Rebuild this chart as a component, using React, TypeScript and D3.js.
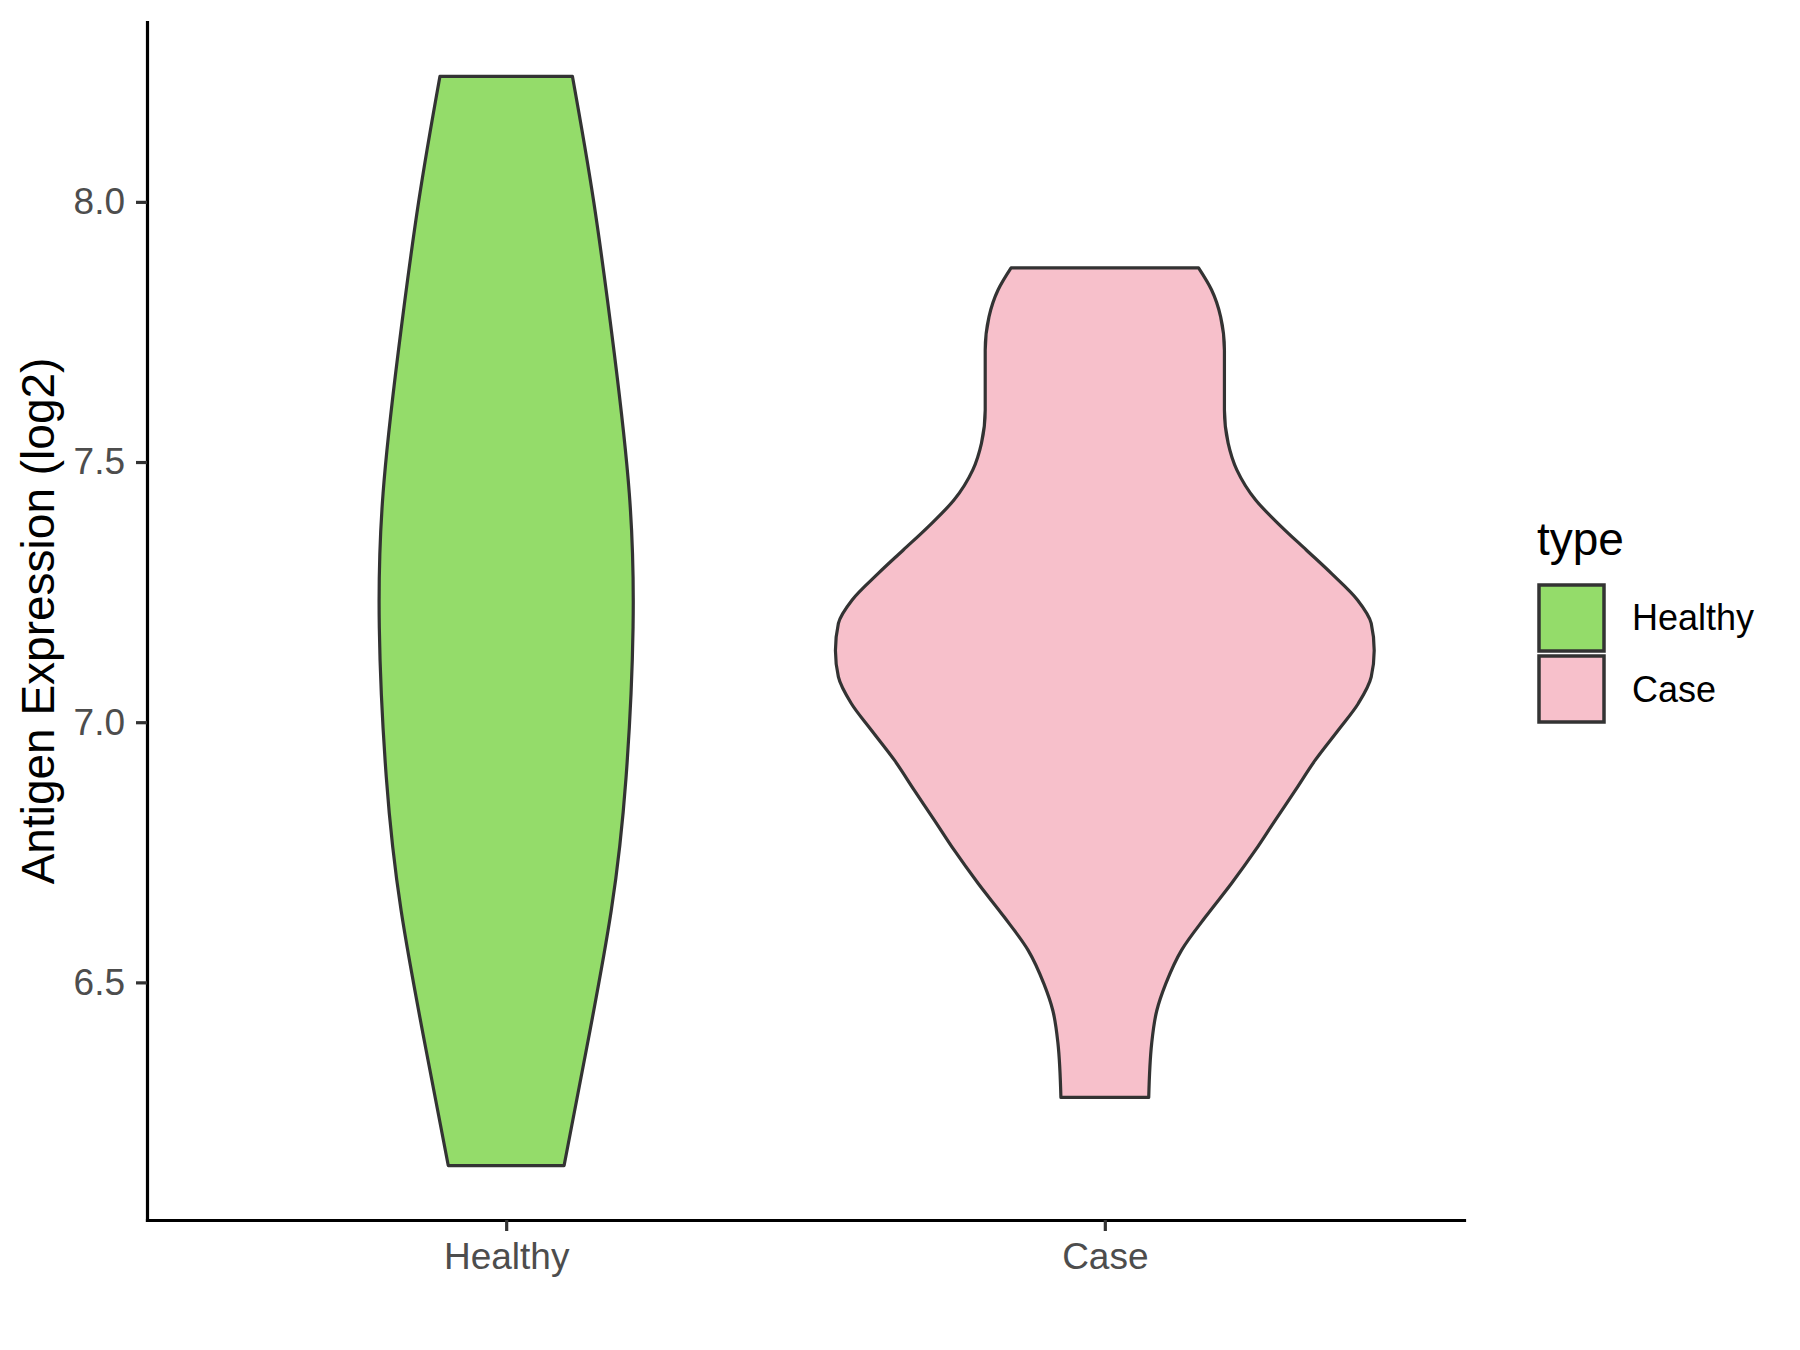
import React, { useEffect, useRef } from 'react';
import * as d3 from 'd3';

// categories and fill colours
const categories = ["Healthy", "Case"];
const fills = ["#94DC6A", "#F7C0CB"];

// violin outlines: expression value and relative density
const healthyValues = [8.241, 8.0, 7.71, 7.44, 7.183, 6.894, 6.638, 6.369, 6.148];
const healthyDensity = [0.246, 0.325, 0.401, 0.457, 0.471, 0.445, 0.39, 0.297, 0.215];

const caseValues = [7.873, 7.831, 7.779, 7.715, 7.651, 7.6, 7.536, 7.485, 7.427, 7.376, 7.331, 7.286, 7.235,
  7.19, 7.138, 7.087, 7.036, 6.985, 6.927, 6.869, 6.812, 6.754, 6.69, 6.626, 6.562, 6.497, 6.446, 6.383, 6.279];
const caseDensity = [0.348, 0.396, 0.43, 0.444, 0.444, 0.444, 0.458, 0.49, 0.56, 0.655, 0.748, 0.841, 0.938,
  0.989, 1.0, 0.989, 0.941, 0.867, 0.781, 0.707, 0.633, 0.559, 0.47, 0.374, 0.285, 0.226, 0.193, 0.174, 0.163];

const yTicks = [6.5, 7.0, 7.5, 8.0];

const App: React.FC = () => {
  const svgRef = useRef<SVGSVGElement | null>(null);

  useEffect(() => {
    const width = 1800;
    const height = 1350;
    const marginLeft = 147;
    const marginRight = 336;
    const marginTop = 22;
    const marginBottom = 130;
    const font = "'Liberation Sans', Arial, sans-serif";

    const svg = d3.select(svgRef.current);
    svg.selectAll("*").remove();
    svg.attr("viewBox", [0, 0, width, height]);

    const profiles = [
      healthyValues.map((v, i) => ({ v, d: healthyDensity[i] })),
      caseValues.map((v, i) => ({ v, d: caseDensity[i] })),
    ];
    // sparse healthy outline gets a natural spline, dense case outline a monotone one
    const curves = [d3.curveNatural, d3.curveMonotoneY];

    // ggplot style 5% expansion
    const [lo, hi] = d3.extent([...healthyValues, ...caseValues]) as [number, number];
    const pad = (hi - lo) * 0.05;
    const y = d3.scaleLinear()
      .domain([lo - pad, hi + pad])
      .range([height - marginBottom, marginTop]);

    const x = d3.scalePoint<string>()
      .domain(categories)
      .range([marginLeft, width - marginRight])
      .padding(0.6);

    const w = d3.scaleLinear().domain([0, 1]).range([0, x.step() * 0.45]);

    // violins
    profiles.forEach((prof, i) => {
      const cx = x(categories[i])!;
      const area = d3.area<{ v: number; d: number }>()
        .y(d => y(d.v))
        .x0(d => cx - w(d.d))
        .x1(d => cx + w(d.d))
        .curve(curves[i]);
      svg.append("path")
        .datum(prof)
        .attr("d", area)
        .attr("fill", fills[i])
        .attr("stroke", "#333333")
        .attr("stroke-width", 3.2)
        .attr("stroke-linejoin", "round");
    });

    // y axis
    const gy = svg.append("g")
      .attr("transform", `translate(${marginLeft},0)`)
      .call(d3.axisLeft(y).tickValues(yTicks).tickFormat(d3.format(".1f")).tickSize(11).tickSizeOuter(0).tickPadding(11));
    gy.select(".domain").attr("stroke", "#000").attr("stroke-width", 3.2).attr("stroke-linecap", "square");
    gy.selectAll(".tick line").attr("stroke", "#333").attr("stroke-width", 3.2);
    gy.selectAll(".tick text").attr("fill", "#4D4D4D").attr("font-size", 37).attr("font-family", font);

    // x axis
    const gx = svg.append("g")
      .attr("transform", `translate(0,${height - marginBottom})`)
      .call(d3.axisBottom(x).tickSize(11).tickSizeOuter(0).tickPadding(12));
    gx.select(".domain").attr("stroke", "#000").attr("stroke-width", 3.2).attr("stroke-linecap", "square");
    gx.selectAll(".tick line").attr("stroke", "#333").attr("stroke-width", 3.2);
    gx.selectAll(".tick text").attr("fill", "#4D4D4D").attr("font-size", 37).attr("font-family", font);

    // y title
    svg.append("text")
      .attr("transform", `translate(54,${(marginTop + height - marginBottom) / 2}) rotate(-90)`)
      .attr("text-anchor", "middle")
      .attr("font-size", 46)
      .attr("font-family", font)
      .attr("fill", "#000")
      .text("Antigen Expression (log2)");

    // legend
    const lg = svg.append("g").attr("font-family", font);
    lg.append("text")
      .attr("x", 1537)
      .attr("y", 555)
      .attr("font-size", 46)
      .attr("fill", "#000")
      .text("type");
    categories.forEach((c, i) => {
      lg.append("rect")
        .attr("x", 1539)
        .attr("y", 585 + i * 71)
        .attr("width", 65)
        .attr("height", 66)
        .attr("fill", fills[i])
        .attr("stroke", "#333333")
        .attr("stroke-width", 3.5);
      lg.append("text")
        .attr("x", 1632)
        .attr("y", 630 + i * 72)
        .attr("font-size", 36)
        .attr("fill", "#000")
        .text(c);
    });
  }, []);

  return (
    <svg
      ref={svgRef}
      width={1800}
      height={1350}
      style={{ position: 'absolute', left: 0, top: 0, background: '#fff' }}
    ></svg>
  );
};

export default App;
